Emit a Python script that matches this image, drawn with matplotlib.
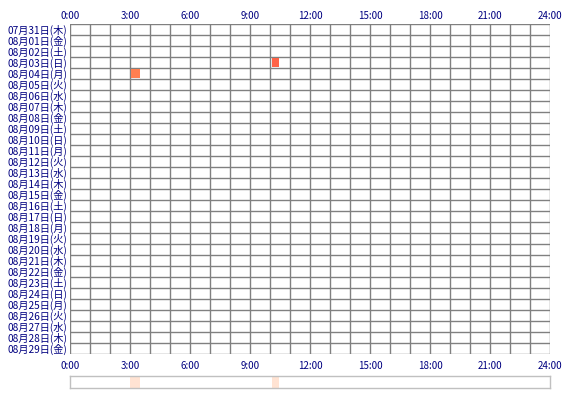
import matplotlib.pyplot as plt
import matplotlib.patches as patches

plt.rcParams['font.family'] = ['Noto Sans CJK JP', 'DejaVu Sans']

# days shown on the rows (07/31 .. 08/29)
months = ['07'] + ['08'] * 29
days = [31] + list(range(1, 30))
weekdays = ['木', '金', '土', '日', '月', '火', '水']
day_labels = ['%s月%02d日(%s)' % (m, d, weekdays[i % 7]) for i, (m, d) in enumerate(zip(months, days))]

# activity blocks: row index, start hour, end hour
event_rows = [3, 4]
event_start = [10.08, 3.0]
event_end = [10.45, 3.5]
event_colors = ['#ff6347', '#ff7f50']

# summary strip at the bottom (all days together)
strip_start = [3.0, 3.28, 10.08]
strip_end = [3.28, 3.5, 10.45]

hour_ticks = [0, 3, 6, 9, 12, 15, 18, 21, 24]
hour_labels = ['%d:00' % h for h in hour_ticks]

txt_color = '#000080'
grid_color = '#808080'

fig = plt.figure(figsize=(5.7, 4.0), dpi=100)
W, H = 570, 400

# main grid
ax = fig.add_axes([70 / W, 1 - 354 / H, 480 / W, 330 / H])
n = len(day_labels)
ax.set_xlim(0, 24)
ax.set_ylim(n, 0)
for h in range(25):
    ax.axvline(h, color=grid_color, lw=1.0, zorder=1)
for r in range(n + 1):
    ax.axhline(r, color=grid_color, lw=1.0, zorder=1)

for r, s, e, c in zip(event_rows, event_start, event_end, event_colors):
    ax.add_patch(patches.Rectangle((s + 0.04, r + 0.1), e - s - 0.04, 0.85,
                                   facecolor=c, edgecolor='none', zorder=2))

ax.set_yticks([i + 0.5 for i in range(n)])
ax.set_yticklabels(day_labels, fontsize=7.3, color=txt_color)
ax.set_xticks(hour_ticks)
ax.set_xticklabels(hour_labels, fontsize=7, color=txt_color)
ax.tick_params(axis='x', length=0, pad=5)
ax.tick_params(axis='y', length=0, pad=2)

top = ax.secondary_xaxis('top')
top.set_xticks(hour_ticks)
top.set_xticklabels(hour_labels, fontsize=7, color=txt_color)
top.tick_params(length=0, pad=2)
top.spines['top'].set_visible(False)

for sp in ax.spines.values():
    sp.set_visible(False)

# bottom summary strip
ax2 = fig.add_axes([70 / W, 1 - 388 / H, 480 / W, 12 / H])
ax2.set_xlim(0, 24)
ax2.set_ylim(0, 1)
for s, e in zip(strip_start, strip_end):
    ax2.axvspan(s, e, color='#ffc8a8', alpha=0.5, lw=0)
ax2.set_xticks([])
ax2.set_yticks([])
for sp in ax2.spines.values():
    sp.set_color('#c0c0c0')
    sp.set_linewidth(1.0)

fig.savefig('out.png', dpi=100, facecolor='white')
